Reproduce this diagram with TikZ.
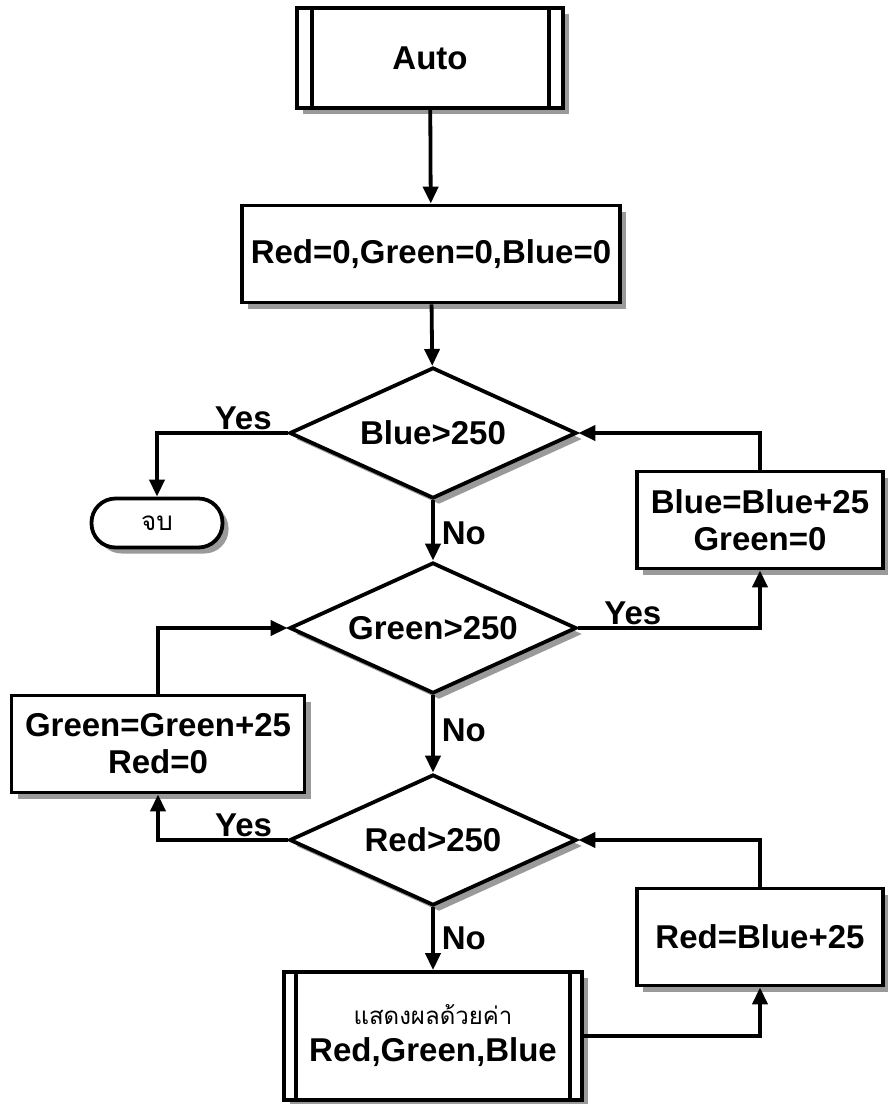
\documentclass[tikz,border=0pt]{standalone}
\usepackage{fontspec}
\setmainfont{Liberation Sans}
\newfontfamily\thaifont[Script=Thai]{Loma}
\usepackage{tikz}
\usetikzlibrary{positioning, arrows.meta, shapes.geometric, shadows}
\definecolor{fGray}{HTML}{9A9A9A}

\begin{document}
\begin{tikzpicture}[x=1pt, y=-1pt,
  box/.style={draw, line width=3.8pt, fill=white, align=center,
              font=\fontsize{33}{37}\selectfont\bfseries,
              drop shadow={shadow xshift=6pt, shadow yshift=-6pt, fill=fGray, opacity=1}},
  predef/.style={box, minimum width=266pt, minimum height=100pt},
  proc/.style={box, minimum height=97pt},
  decide/.style={box, diamond, aspect=2.2, inner sep=0pt,
                 minimum width=287pt, minimum height=131pt},
  term/.style={box, rounded corners=24pt, minimum width=131pt, minimum height=49pt,
               font=\thaifont\fontsize{26}{30}\selectfont},
  flow/.style={line width=3.8pt, -{Triangle[length=17pt, width=15pt]}},
  lbl/.style={font=\fontsize{33}{37}\selectfont\bfseries, inner sep=1pt},
]
  \useasboundingbox (0,0) rectangle (888,1104);

  \node[predef] (auto) at (430,58) {Auto};
  \draw[line width=3.8pt] ([xshift=17pt]auto.north west) -- ([xshift=17pt]auto.south west);
  \draw[line width=3.8pt] ([xshift=-16pt]auto.north east) -- ([xshift=-16pt]auto.south east);

  \node[proc, minimum width=378pt] (init) at (431,254) {Red=0,Green=0,Blue=0};

  \node[decide] (dblue) at (433,433) {Blue>250};
  \node[term] (stop) at (157,523) {จบ};
  \node[proc, minimum width=246pt] (bstep) at (760,520) {Blue=Blue+25\\Green=0};

  \node[decide] (dgreen) at (433,628) {Green>250};
  \node[proc, minimum width=293pt] (gstep) at (158,744) {Green=Green+25\\Red=0};

  \node[decide] (dred) at (433,840) {Red>250};
  \node[proc, minimum width=246pt] (rstep) at (760,937) {Red=Blue+25};

  \node[predef, minimum width=298pt, minimum height=128pt] (show) at (433,1036)
    {{\thaifont\mdseries\fontsize{24}{30}\selectfont แสดงผลด้วยค่า}\\Red,Green,Blue};
  \draw[line width=3.8pt] ([xshift=14pt]show.north west) -- ([xshift=14pt]show.south west);
  \draw[line width=3.8pt] ([xshift=-14pt]show.north east) -- ([xshift=-14pt]show.south east);

  % flow lines
  \draw[flow] (auto) -- (init);
  \draw[flow] (init) -- (dblue);
  \draw[flow] (dblue.west) -| node[lbl, pos=0.17, above] {Yes} (stop.north);
  \draw[flow] (dblue.south) -- node[lbl, pos=0.55, right=6pt] {No} (dgreen.north);
  \draw[flow] (dgreen.east) -| node[lbl, pos=0.15, above] {Yes} (bstep.south);
  \draw[flow] (bstep.north) |- (dblue.east);
  \draw[flow] (dgreen.south) -- node[lbl, pos=0.45, right=6pt] {No} (dred.north);
  \draw[flow] (dred.west) -| node[lbl, pos=0.17, above] {Yes} (gstep.south);
  \draw[flow] (gstep.north) |- (dgreen.west);
  \draw[flow] (dred.south) -- node[lbl, right=6pt] {No} (show.north);
  \draw[flow] (show.east) -| (rstep.south);
  \draw[flow] (rstep.north) |- (dred.east);
\end{tikzpicture}
\end{document}
